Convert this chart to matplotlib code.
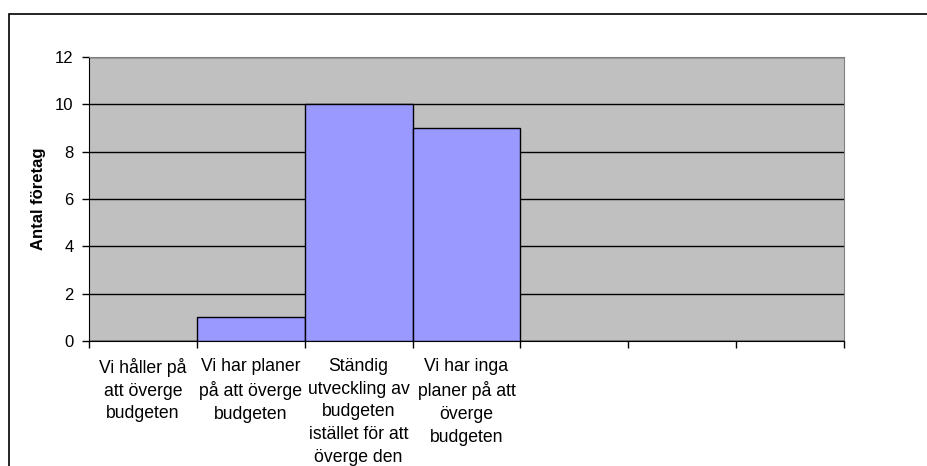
import matplotlib
matplotlib.use('agg')
import matplotlib.pyplot as plt
from matplotlib.patches import Rectangle

plt.rcParams['font.family'] = ['Liberation Sans', 'DejaVu Sans']

# svar per kategori (tre tomma kategorier sist)
categories = [
    "Vi håller på\natt överge\nbudgeten",
    "Vi har planer\npå att överge\nbudgeten",
    "Ständig\nutveckling av\nbudgeten\nistället för att\növerge den",
    "Vi har inga\nplaner på att\növerge\nbudgeten",
    "", "", "",
]
antal = [0, 1, 10, 9, 0, 0, 0]
yticks = [0, 2, 4, 6, 8, 10, 12]

fig = plt.figure(figsize=(9.28, 4.66), dpi=100)
W, H = 928, 466

# ram runt hela diagrammet
fig.patches.append(Rectangle((9 / W, -0.1), 1.2, (466 - 14) / H + 0.1,
                             transform=fig.transFigure, fill=False,
                             edgecolor='black', linewidth=1.2))

ax = fig.add_axes([89 / W, (H - 341) / H, 755 / W, 284 / H])
ax.set_facecolor('#C0C0C0')

x = list(range(len(categories)))
ax.bar(x, antal, width=1.0, color='#9999FF', edgecolor='black',
       linewidth=1.0, zorder=3)

ax.set_xlim(-0.5, len(categories) - 0.5)
ax.set_ylim(0, 12)
ax.set_yticks(yticks)
ax.yaxis.grid(True, color='black', linewidth=1.0, zorder=1)
ax.set_axisbelow(True)

ax.set_xticks(x)
ax.set_xticklabels(categories, fontsize=12.7, linespacing=1.45)
ax.set_xticks([i - 0.5 for i in range(len(categories) + 1)], minor=True)
ax.tick_params(axis='x', which='major', length=0, pad=12)
ax.tick_params(axis='x', which='minor', length=5, width=1, direction='out')
ax.tick_params(axis='y', length=5, width=1, direction='out', labelsize=12, pad=6)

ax.set_ylabel("Antal företag", fontsize=12, fontweight='bold')
ax.yaxis.set_label_coords(-0.057, 0.5)

for s in ['top', 'right']:
    ax.spines[s].set_color('#808080')
for s in ['left', 'bottom']:
    ax.spines[s].set_color('black')

fig.savefig('out.png', dpi=100)
